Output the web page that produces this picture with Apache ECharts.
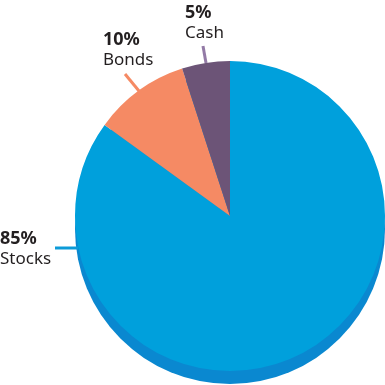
<!DOCTYPE html>
<html>
<head>
<meta charset="utf-8">
<script src="https://cdn.jsdelivr.net/npm/echarts@6/dist/echarts.min.js"></script>
<style>html,body{margin:0;padding:0;background:#fff;}#c{width:385px;height:385px;}</style>
</head>
<body>
<div id="c"></div>
<script>
var categories = ['Stocks', 'Bonds', 'Cash'];
var values = [85, 10, 5];
var colors = ['#00a0dc', '#f58a64', '#6c5477'];
var lineColors = ['#0c9bd8', '#f58a64', '#937aa6'];

var chart = echarts.init(document.getElementById('c'), null, {renderer: 'canvas'});

var labelPos = [
  {x: 0, y: 228, line: [[55, 248], [78, 248]]},
  {x: 103, y: 29, line: [[125, 74], [139, 91]]},
  {x: 185, y: 2, line: [[203, 46], [206, 63]]}
];

var data = categories.map(function (c, i) {
  return {
    name: c,
    value: values[i],
    itemStyle: {color: colors[i]},
    labelLine: {lineStyle: {color: lineColors[i], width: 3}}
  };
});

chart.setOption({
  animation: false,
  series: [
    {
      type: 'pie',
      silent: true,
      center: [230, 229],
      radius: 155,
      startAngle: 90,
      label: {show: false},
      labelLine: {show: false},
      data: [{value: 1, name: 'shadow', itemStyle: {color: '#0a88d0'}}],
      z: 1
    },
    {
      type: 'pie',
      center: [230, 216],
      radius: 155,
      startAngle: 90,
      clockwise: true,
      avoidLabelOverlap: false,
      z: 2,
      itemStyle: {borderWidth: 0},
      label: {
        show: true,
        position: 'outside',
        formatter: function (p) { return '{a|' + p.value + '%}\n{b|' + p.name + '}'; },
        rich: {
          a: {fontFamily: 'Noto Sans', fontWeight: 'bold', fontSize: 18, color: '#231f20', lineHeight: 21},
          b: {fontFamily: 'Noto Sans', fontSize: 17, color: '#231f20', lineHeight: 21}
        }
      },
      labelLine: {show: true},
      labelLayout: function (params) {
        var p = labelPos[params.dataIndex];
        return {x: p.x, y: p.y, align: 'left', verticalAlign: 'top', labelLinePoints: p.line};
      },
      data: data
    }
  ]
});
</script>
</body>
</html>
